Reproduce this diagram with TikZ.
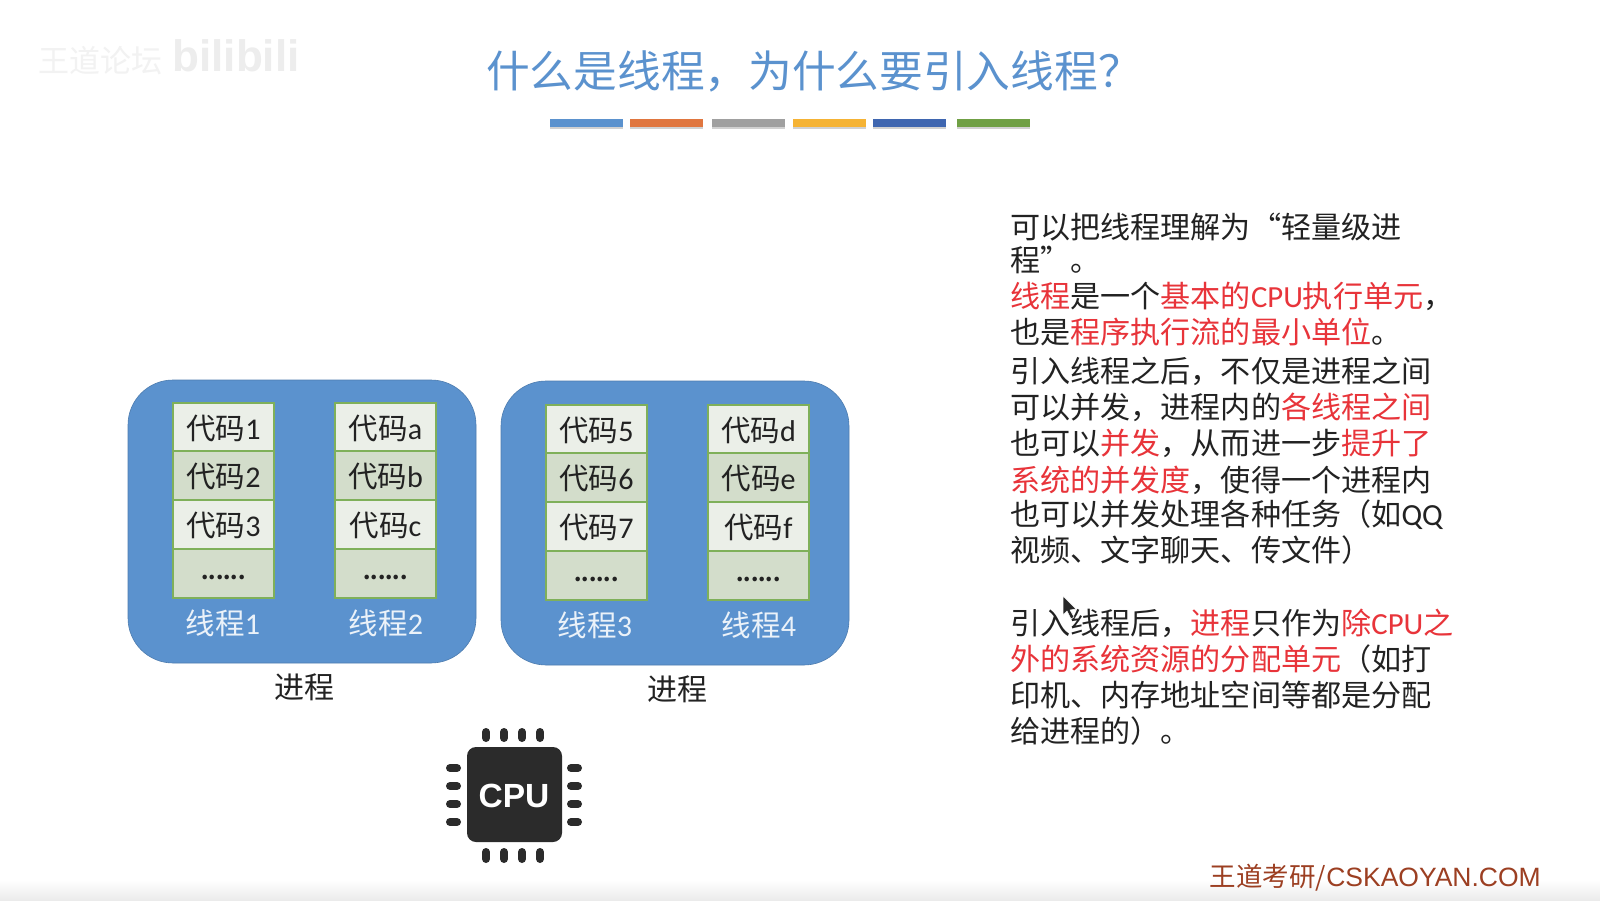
\documentclass[tikz,border=0pt]{standalone}
\usepackage{fontspec}
\setmainfont{Noto Sans CJK SC}
\newfontfamily\latinf{Liberation Sans}
\newfontfamily\cl[Scale=1.02]{Carlito}
\usetikzlibrary{calc}
\definecolor{procblue}{HTML}{5B92CE}
\definecolor{titleblue}{HTML}{5B92CE}
\definecolor{cellA}{HTML}{EBEFE8}
\definecolor{cellB}{HTML}{D3DDCB}
\definecolor{cellline}{HTML}{7FB05A}
\definecolor{redt}{HTML}{E8343A}
\definecolor{txt}{HTML}{222222}
\definecolor{foot}{HTML}{9C3F22}
\definecolor{chip}{HTML}{2B2B2B}
\newcommand{\rd}[1]{\textcolor{redt}{#1}}
\tikzset{
  x=1pt,y=-1pt,
  procbox/.style={draw=procblue!85!black,line width=0.6pt,fill=procblue,rounded corners=45pt},
  rowa/.style={draw=cellline,line width=1.6pt,fill=cellA},
  celltxt/.style={font=\fontsize{29.5}{29.5}\selectfont,text=txt,inner sep=0pt,anchor=center},
  thr/.style={font=\fontsize{29.5}{29.5}\selectfont,text=white!88!procblue,inner sep=0pt},
  proc/.style={font=\fontsize{30}{30}\selectfont,text=txt,inner sep=0pt},
  bodyl/.style={font=\fontsize{30.1}{30.1}\selectfont,text=txt,inner sep=0pt,anchor=west},
  pin/.style={draw=chip,line width=8pt,line cap=round},
}
\newcommand{\stackcol}[6]{% x, y, t1,t2,t3, name
  \fill[cellA] (#1,#2) rectangle ++(101,48);
  \fill[cellB] (#1,#2+48) rectangle ++(101,49);
  \fill[cellA] (#1,#2+97) rectangle ++(101,49);
  \fill[cellB] (#1,#2+146) rectangle ++(101,49);
  \draw[rowa,fill=none] (#1,#2) rectangle ++(101,48);
  \draw[rowa,fill=none] (#1,#2+48) rectangle ++(101,49);
  \draw[rowa,fill=none] (#1,#2+97) rectangle ++(101,49);
  \draw[rowa,fill=none] (#1,#2+146) rectangle ++(101,49);
  \node[celltxt] (#6a) at (#1+50.5,#2+25) {#3};
  \node[celltxt] (#6b) at (#1+50.5,#2+73) {#4};
  \node[celltxt] (#6c) at (#1+50.5,#2+122) {#5};
  \node[font=\fontsize{21}{21}\selectfont\bfseries,text=txt,inner sep=0pt] (#6d) at (#1+50.5,#2+174) {......};
}
\begin{document}
\begin{tikzpicture}
\useasboundingbox (0,0) rectangle (1600,900);
\fill[white] (0,0) rectangle (1600,900);
\shade[top color=white,bottom color=black!8] (0,880) rectangle (1600,900);
% watermark
\node[text=black!5,font=\fontsize{31}{31}\selectfont,inner sep=0pt] (wm1) at (100,61) {王道论坛};
\node[text=black!7,font=\latinf\fontsize{44}{44}\selectfont\bfseries,inner sep=0pt] (wm2) at (236,56) {bilibili};
% title
\node[text=titleblue,font=\fontsize{43.7}{43.7}\selectfont,inner sep=0pt,anchor=west] (title) at (486,71) {什么是线程，为什么要引入线程？};
% bars
\foreach \xa/\xb/\c in {550/623/5B92CE,630/703/E0763F,712/785/A0A0A0,793/866/F5B335,873/946/3F66B0,957/1030/70A045}{
  \definecolor{bc}{HTML}{\c}
  \fill[black!18] (\xa,121) rectangle (\xb,129);
  \fill[bc] (\xa,119) rectangle (\xb,127);
}
% process 1
\draw[procbox] (128,380) rectangle (476,663);
\stackcol{173}{403}{代码{\cl 1}}{代码{\cl 2}}{代码{\cl 3}}{col1}
\stackcol{335}{403}{代码{\cl a}}{代码{\cl b}}{代码{\cl c}}{col2}
\node[thr] (t1) at (223,623) {线程{\cl 1}};
\node[thr] (t2) at (386,623) {线程{\cl 2}};
\node[proc] (p1) at (304,687) {进程};
% process 2
\draw[procbox] (501,381) rectangle (849,665);
\stackcol{546}{405}{代码{\cl 5}}{代码{\cl 6}}{代码{\cl 7}}{col3}
\stackcol{708}{405}{代码{\cl d}}{代码{\cl e}}{代码{\cl f}}{col4}
\node[thr] (t3) at (595,625) {线程{\cl 3}};
\node[thr] (t4) at (759,625) {线程{\cl 4}};
\node[proc] (p2) at (677,689) {进程};
% CPU
\fill[chip,rounded corners=9pt] (467,747) rectangle (562,842);
\foreach \v in {486,504,522,540}{
  \draw[pin] (\v,732) -- (\v,738);
  \draw[pin] (\v,852) -- (\v,859);
}
\foreach \v in {768,786,804,822}{
  \draw[pin] (450,\v) -- (457,\v);
  \draw[pin] (571,\v) -- (578,\v);
}
\node[text=white,font=\latinf\fontsize{33.5}{33.5}\selectfont\bfseries,inner sep=0pt] (cpu) at (514,796) {CPU};
% text
\node[bodyl] (l1) at (1010,227) {可以把线程理解为“轻量级进};
\node[bodyl] (l2) at (1010,260) {程”。};
\node[bodyl] (l3) at (1010,296) {\rd{线程}是一个\rd{基本的{\cl CPU}执行单元}，};
\node[bodyl] (l4) at (1010,332) {也是\rd{程序执行流的最小单位}。};
\node[bodyl] (l5) at (1010,371) {引入线程之后，不仅是进程之间};
\node[bodyl] (l6) at (1010,407) {可以并发，进程内的\rd{各线程之间}};
\node[bodyl] (l7) at (1010,443) {也可以\rd{并发}，从而进一步\rd{提升了}};
\node[bodyl] (l8) at (1010,480) {\rd{系统的并发度}，使得一个进程内};
\node[bodyl] (l9) at (1010,515) {也可以并发处理各种任务（如{\cl QQ}};
\node[bodyl] (l10) at (1010,550) {视频、文字聊天、传文件）};
\node[bodyl] (l11) at (1010,623) {引入线程后，\rd{进程}只作为\rd{除{\cl CPU}之}};
\node[bodyl] (l12) at (1010,659) {\rd{外的系统资源的分配单元}（如打};
\node[bodyl] (l13) at (1010,695) {印机、内存地址空间等都是分配};
\node[bodyl] (l14) at (1010,731) {给进程的）。};
% footer
\node[text=foot,font=\fontsize{26.5}{26.5}\selectfont,inner sep=0pt,anchor=east] (foot) at (1541,878) {王道考研/{\latinf CSKAOYAN.COM}};
% cursor
\fill[black!85!white,draw=white,line width=0.5pt] (1063,596) -- (1063,615) -- (1067,611) -- (1071,619) -- (1074,617) -- (1070,610) -- (1076,609) -- cycle;
\end{tikzpicture}
\end{document}
